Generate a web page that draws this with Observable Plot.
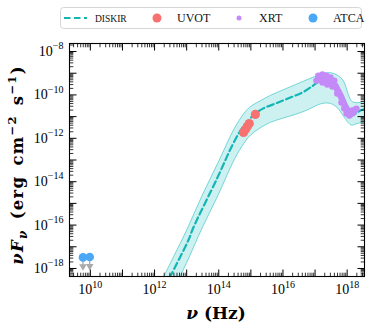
<!DOCTYPE html>
<html>
<head>
<meta charset="utf-8">
<script src="https://cdn.jsdelivr.net/npm/d3@7"></script>
<script src="https://cdn.jsdelivr.net/npm/@observablehq/plot@0.6"></script>
<style>
  body { margin: 0; background: #fff; }
  #wrap { width: 373px; height: 332px; overflow: hidden; }
  svg { display: block; }
</style>
</head>
<body>
<div id="wrap"></div>
<script>
// ---- data (log10 values) ----
// DISKIR model, central curve
const modelLogNu = [12.2, 12.49, 13.05, 13.21, 13.96, 14.45, 14.74, 14.98, 15.14, 15.39, 15.83, 16.23, 16.64, 16.95, 17.17, 17.35, 17.5, 17.63, 17.88, 18.04, 18.1, 18.26, 18.41, 18.63];
const modelLogF  = [-19.25, -18.37, -16.71, -16.11, -13.81, -12.24, -11.5, -11.09, -10.86, -10.62, -10.36, -10.12, -9.86, -9.56, -9.34, -9.25, -9.35, -9.57, -10.12, -10.72, -10.95, -10.86, -10.72, -10.63];
// DISKIR model uncertainty band
const bandLogNu   = [12.2, 12.6, 13.0, 13.5, 14.0, 14.5, 14.8, 15.0, 15.3, 15.6, 16.0, 16.4, 16.8, 17.1, 17.3, 17.5, 17.7, 17.9, 18.05, 18.15, 18.3, 18.45, 18.65];
const bandLogHigh = [-18.7, -17.5, -16.3, -14.65, -13.12, -11.57, -10.88, -10.56, -10.3, -10.06, -9.8, -9.55, -9.3, -9.12, -9.02, -9.0, -9.1, -9.38, -10.0, -10.3, -10.38, -10.36, -10.33];
const bandLogLow  = [-20.2, -19.0, -17.8, -16.15, -14.62, -13.0, -12.25, -11.88, -11.55, -11.3, -11.1, -10.92, -10.7, -10.48, -10.4, -10.42, -10.6, -11.0, -11.3, -11.42, -11.35, -11.3, -11.25];
// UVOT
const uvotLogNu = [14.77, 14.83, 14.89, 14.95, 15.14];
const uvotLogF  = [-11.73, -11.59, -11.46, -11.32, -10.90];
// XRT
const xrtLogNu = [17.04, 17.10, 17.17, 17.20, 17.26, 17.29, 17.35, 17.38, 17.45, 17.48, 17.54, 17.57, 17.63, 17.66, 17.69, 17.73, 17.76, 17.79, 17.82, 17.85, 17.88, 17.91, 17.94, 17.98, 18.01, 18.04, 18.07, 18.10, 18.13, 18.16, 18.19, 18.22, 18.26, 18.29,
                  17.10, 17.23, 17.35, 17.48, 17.60, 17.23, 17.38, 17.54, 17.69, 17.82, 17.91, 17.98, 18.07, 18.16];
const xrtLogF  = [-9.34, -9.24, -9.29, -9.20, -9.24, -9.34, -9.29, -9.38, -9.34, -9.43, -9.43, -9.52, -9.57, -9.66, -9.75, -9.84, -9.94, -10.03, -10.12, -10.26, -10.35, -10.44, -10.53, -10.63, -10.72, -10.76, -10.81, -10.86, -10.81, -10.86, -10.76, -10.72, -10.67, -10.63,
                  -9.11, -9.06, -9.11, -9.20, -9.34, -9.43, -9.52, -9.61, -9.94, -10.35, -10.63, -10.86, -10.95, -10.72];
// ATCA
const atcaLogNu = [9.77, 9.98];
const atcaLogF  = [-17.49, -17.47];
// axis tick labels
const xTickLabels = [1e10, 1e12, 1e14, 1e16, 1e18];
const yTickLabels = [1e-18, 1e-16, 1e-14, 1e-12, 1e-10, 1e-8];
// legend
const legendNames = ["DISKIR", "UVOT", "XRT", "ATCA"];
const colors = {model: "#15b5b5", uvot: "#f87171", xrt: "#c48af8", atca: "#4aa8f7", limit: "#aaaaaa"};

// ---- build ----
const pow = v => Math.pow(10, v);
const model = modelLogNu.map((v, i) => ({nu: pow(v), f: pow(modelLogF[i])}));
const band = bandLogNu.map((v, i) => ({nu: pow(v), lo: pow(bandLogLow[i]), hi: pow(bandLogHigh[i])}));
const uvot = uvotLogNu.map((v, i) => ({nu: pow(v), f: pow(uvotLogF[i])}));
const xrt = xrtLogNu.map((v, i) => ({nu: pow(v), f: pow(xrtLogF[i])}));
const atca = atcaLogNu.map((v, i) => ({nu: pow(v), f: pow(atcaLogF[i])}));

const xDom = [pow(9.35), pow(18.54)];
const yDom = [pow(-18.37), pow(-7.63)];
const inX = v => v >= xDom[0] && v <= xDom[1];
const inY = v => v >= yDom[0] && v <= yDom[1];
const xMajor = d3.range(9, 20).map(e => pow(e)).filter(inX);
const xMinor = d3.range(9, 19).flatMap(e => d3.range(2, 10).map(k => k * pow(e))).filter(inX);
const yMajor = d3.range(-19, -6).map(e => pow(e)).filter(inY);
const yMinor = d3.range(-19, -7).flatMap(e => d3.range(2, 10).map(k => k * pow(e))).filter(inY);

const tickShape = {draw(ctx, l) { ctx.moveTo(0, 0); ctx.lineTo(0, -l); }};
const tk = (data, ch, anchor, rot, len, w) => Plot.vector(data, {
  [ch]: d => d, frameAnchor: anchor, rotate: rot, length: len, anchor: "start",
  shape: tickShape, stroke: "black", strokeWidth: w, strokeLinecap: "butt"
});
const sup = d => "10^" + Math.round(Math.log10(d));
const SERIF = "Liberation Serif, Times New Roman, serif";

const svg = Plot.plot({
  width: 373, height: 296,
  marginLeft: 69, marginRight: 9, marginTop: 7, marginBottom: 56,
  style: {fontFamily: SERIF, fontSize: "14px", background: "white", color: "black"},
  x: {type: "log", domain: xDom, label: null},
  y: {type: "log", domain: yDom, label: null},
  marks: [
    Plot.areaY(band, {x: "nu", y1: "lo", y2: "hi", fill: "#2cc6c6", fillOpacity: 0.24, stroke: "#3cc4c4", strokeOpacity: 0.75, strokeWidth: 0.9, curve: "catmull-rom", clip: true}),
    Plot.line(model, {x: "nu", y: "f", stroke: colors.model, strokeWidth: 2.2, strokeDasharray: "6.5,3.5", curve: "catmull-rom", clip: true}),
    Plot.dot(uvot, {x: "nu", y: "f", r: 4.6, fill: colors.uvot}),
    Plot.dot(xrt, {x: "nu", y: "f", r: 3.2, fill: colors.xrt}),
    Plot.link(atca, {x: "nu", y1: "f", y2: d => d.f / pow(0.4), stroke: colors.limit, strokeWidth: 1.3}),
    Plot.dot(atca, {x: "nu", y: d => d.f / pow(0.42), symbol: "triangle", rotate: 180, r: 2.8, fill: colors.limit}),
    Plot.dot(atca, {x: "nu", y: "f", r: 4.3, fill: colors.atca}),
    tk(xMajor, "x", "bottom", 0, 7, 1), tk(xMinor, "x", "bottom", 0, 3.8, 0.8),
    tk(xMajor, "x", "top", 180, 7, 1), tk(xMinor, "x", "top", 180, 3.8, 0.8),
    tk(yMajor, "y", "left", 90, 7, 1), tk(yMinor, "y", "left", 90, 3.8, 0.8),
    tk(yMajor, "y", "right", -90, 7, 1), tk(yMinor, "y", "right", -90, 3.8, 0.8),
    Plot.frame({stroke: "black", strokeWidth: 1.1}),
    Plot.axisX(xTickLabels, {anchor: "bottom", tickSize: 0, tickPadding: 8, tickFormat: sup, label: null}),
    Plot.axisY(yTickLabels, {anchor: "left", tickSize: 0, tickPadding: 6, tickFormat: sup, label: null})
  ]
});

// superscripts in tick labels
d3.select(svg).selectAll("text").each(function () {
  const m = /^10\^(-?\d+)$/.exec(this.textContent);
  if (m) {
    this.textContent = "10";
    d3.select(this).attr("font-family", SERIF);
    d3.select(this).append("tspan").attr("dy", -6.8).attr("font-size", 10).text(m[1].replace("-", "\u2212"));
  }
});

// axis titles
const g = d3.select(svg);
const yl = g.append("text")
  .attr("transform", "translate(23,129) rotate(-90)")
  .attr("text-anchor", "middle").attr("font-family", "DejaVu Serif, serif")
  .attr("font-size", 16.5).attr("font-weight", "bold").attr("fill", "black")
  .attr("letter-spacing", 1.3).attr("word-spacing", 3);
yl.append("tspan").attr("font-style", "italic").text("\u03BDF");
yl.append("tspan").attr("font-style", "italic").attr("font-size", 12).attr("dy", 4).text("\u03BD");
yl.append("tspan").attr("dy", -4).text(" (erg cm");
yl.append("tspan").attr("font-size", 11.5).attr("dy", -7).text("\u22122");
yl.append("tspan").attr("dy", 7).text(" s");
yl.append("tspan").attr("font-size", 11.5).attr("dy", -7).text("\u22121");
yl.append("tspan").attr("dy", 7).text(")");

const xl = g.append("text")
  .attr("x", 216).attr("y", 283)
  .attr("text-anchor", "middle").attr("font-family", "DejaVu Serif, serif")
  .attr("font-size", 17).attr("font-weight", "bold").attr("fill", "black");
xl.append("tspan").attr("font-style", "italic").text("\u03BD");
xl.append("tspan").text(" (Hz)");

// legend (above the chart)
const leg = d3.create("svg").attr("width", 373).attr("height", 36)
  .attr("font-family", SERIF).style("display", "block");
leg.append("rect").attr("x", 60.5).attr("y", 7.5).attr("width", 301).attr("height", 21).attr("rx", 3)
  .attr("fill", "white").attr("stroke", "#d6d6d6");
leg.append("line").attr("x1", 64).attr("x2", 87).attr("y1", 18).attr("y2", 18)
  .attr("stroke", colors.model).attr("stroke-width", 2.2).attr("stroke-dasharray", "6.5,3.5");
leg.append("text").attr("x", 95).attr("y", 21.5).attr("font-size", 9.5).attr("fill", "#111").text(legendNames[0]);
leg.append("circle").attr("cx", 157).attr("cy", 18).attr("r", 4.5).attr("fill", colors.uvot);
leg.append("text").attr("x", 177).attr("y", 22.2).attr("font-size", 12).attr("fill", "#111").text(legendNames[1]);
leg.append("circle").attr("cx", 239).attr("cy", 18).attr("r", 2.5).attr("fill", colors.xrt);
leg.append("text").attr("x", 259).attr("y", 22.2).attr("font-size", 12).attr("fill", "#111").text(legendNames[2]);
leg.append("circle").attr("cx", 313).attr("cy", 18).attr("r", 4.5).attr("fill", colors.atca);
leg.append("text").attr("x", 333).attr("y", 22.2).attr("font-size", 12).attr("fill", "#111").text(legendNames[3]);

const wrap = document.getElementById("wrap");
wrap.appendChild(leg.node());
wrap.appendChild(svg);
</script>
</body>
</html>
